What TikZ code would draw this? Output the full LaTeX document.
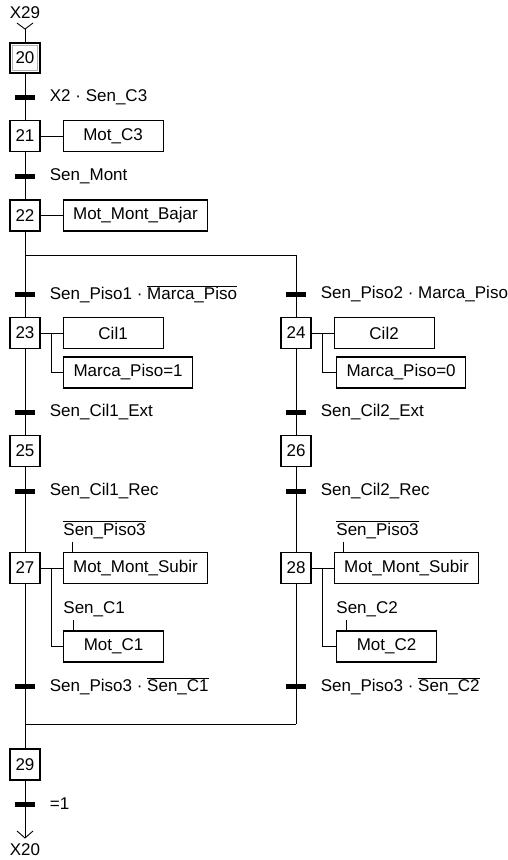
\documentclass[tikz,border=0pt]{standalone}
\usepackage{fontspec}
\setmainfont{Liberation Sans}
\usetikzlibrary{positioning}

\newcommand{\negado}[1]{$\overline{\mbox{#1}}$}

\tikzset{
  etapa/.style={draw, line width=1.1pt, minimum width=30pt, minimum height=31pt, inner sep=0pt},
  inicial/.style={etapa, minimum height=30pt},
  accion/.style={draw, line width=1.1pt, anchor=west, minimum width=100pt, minimum height=31pt, inner xsep=10pt, inner ysep=0pt},
  barra/.style={fill=black, minimum width=20pt, minimum height=5pt, inner sep=0pt},
  recep/.style={inner sep=0pt},
}

\begin{document}
\begin{tikzpicture}[x=1pt,y=-1pt,line width=0.9pt,font=\fontsize{17}{20}\selectfont]
  \useasboundingbox (0,0) rectangle (507,860);
  % entrada desde X29
  \node[recep] (x29) at (25,13) {X29};
  \coordinate (ent) at (25,29);
  \node[inicial] (s20) at (25,58) {20};
  \draw[black!30, line width=0.7pt] ([shift={(3pt,3pt)}]s20.south west) rectangle ([shift={(-3pt,-3pt)}]s20.north east);
  \draw ([xshift=-8pt,yshift=6pt]ent) -- (ent) -- ([xshift=8pt,yshift=6pt]ent);
  \draw (ent) -- (s20);
  % secuencia comun
  \node[barra] (t1) at (25,97) {};
  \node[recep, right=14pt of t1] (r1) {X2 · Sen\_C3};
  \node[etapa] (s21) at (25,136) {21};
  \node[accion, right=22pt of s21] (a21) {Mot\_C3};
  \node[barra] (t2) at (25,176) {};
  \node[recep, right=14pt of t2] (r2) {Sen\_Mont};
  \node[etapa] (s22) at (25,215.5) {22};
  \node[accion, right=22pt of s22] (a22) {Mot\_Mont\_Bajar};
  \draw (s20) -- (s21) (s21) -- (a21);
  \draw (s21) -- (s22) (s22) -- (a22);
  % divergencia OU
  \coordinate (d1) at (25,255);
  \coordinate (d2) at (296,255);
  \draw (d1) -- (d2);
  % rama izquierda
  \node[barra] (t3) at (25,294) {};
  \node[recep, right=14pt of t3] (r3) {Sen\_Piso1 · \negado{Marca\_Piso}};
  \node[etapa] (s23) at (25,333) {23};
  \node[accion, right=22pt of s23] (a23a) {Cil1};
  \node[accion] (a23b) at (63,372.5) {Marca\_Piso=1};
  \node[barra] (t5) at (25,412) {};
  \node[recep, right=14pt of t5] (r5) {Sen\_Cil1\_Ext};
  \node[etapa] (s25) at (25,451) {25};
  \node[barra] (t7) at (25,491) {};
  \node[recep, right=14pt of t7] (r7) {Sen\_Cil1\_Rec};
  \node[etapa] (s27) at (25,568) {27};
  \node[accion, right=22pt of s27] (a27a) {Mot\_Mont\_Subir};
  \node[recep, anchor=base west] (c27a) at (63,535) {\negado{Sen\_Piso3}};
  \node[accion] (a27b) at (63,646.5) {Mot\_C1};
  \node[recep, anchor=base west] (c27b) at (63,613) {Sen\_C1};
  \node[barra] (t9) at (25,686) {};
  \node[recep, right=14pt of t9] (r9) {Sen\_Piso3 · \negado{Sen\_C1}};
  \draw (s22) -- (s23) (s23) -- (a23a);
  \draw ([xshift=11pt]s23.east) |- (a23b);
  \draw (s23) -- (s25) (s25) -- (s27) (s27) -- (a27a);
  \draw ([xshift=11pt]s27.east) |- (a27b);
  \draw ([xshift=10pt]a27a.north west) -- ++(0,10pt);
  \draw ([xshift=10pt]a27b.north west) -- ++(0,10pt);
  % rama derecha
  \node[barra] (t4) at (296,294) {};
  \node[recep, right=14pt of t4] (r4) {Sen\_Piso2 · Marca\_Piso};
  \node[etapa] (s24) at (296,333) {24};
  \node[accion, right=22pt of s24] (a24a) {Cil2};
  \node[accion] (a24b) at (336,372.5) {Marca\_Piso=0};
  \node[barra] (t6) at (296,412) {};
  \node[recep, right=14pt of t6] (r6) {Sen\_Cil2\_Ext};
  \node[etapa] (s26) at (296,451) {26};
  \node[barra] (t8) at (296,491) {};
  \node[recep, right=14pt of t8] (r8) {Sen\_Cil2\_Rec};
  \node[etapa] (s28) at (296,568) {28};
  \node[accion, right=22pt of s28] (a28a) {Mot\_Mont\_Subir};
  \node[recep, anchor=base west] (c28a) at (336,535) {\negado{Sen\_Piso3}};
  \node[accion] (a28b) at (336,646.5) {Mot\_C2};
  \node[recep, anchor=base west] (c28b) at (336,613) {Sen\_C2};
  \node[barra] (t10) at (296,686) {};
  \node[recep, right=14pt of t10] (r10) {Sen\_Piso3 · \negado{Sen\_C2}};
  \draw (d2) -- (s24) (s24) -- (a24a);
  \draw ([xshift=11pt]s24.east) |- (a24b);
  \draw (s24) -- (s26) (s26) -- (s28) (s28) -- (a28a);
  \draw ([xshift=11pt]s28.east) |- (a28b);
  \draw ([xshift=10pt]a28a.north west) -- ++(0,10pt);
  \draw ([xshift=10pt]a28b.north west) -- ++(0,10pt);
  % convergencia OU
  \coordinate (c1) at (25,724);
  \coordinate (c2) at (296,724);
  \draw (c1) -- (c2) (s28) -- (c2);
  \node[etapa] (s29) at (25,764.5) {29};
  \node[barra] (t11) at (25,804) {};
  \node[recep, right=14pt of t11] (r11) {=1};
  \coordinate (sal) at (25,838);
  \node[recep] (x20) at (25,850) {X20};
  \draw (s27) -- (s29) (s29) -- (sal);
  \draw ([xshift=-8pt,yshift=7pt]sal) -- (sal) -- ([xshift=8pt,yshift=7pt]sal);
\end{tikzpicture}
\end{document}
